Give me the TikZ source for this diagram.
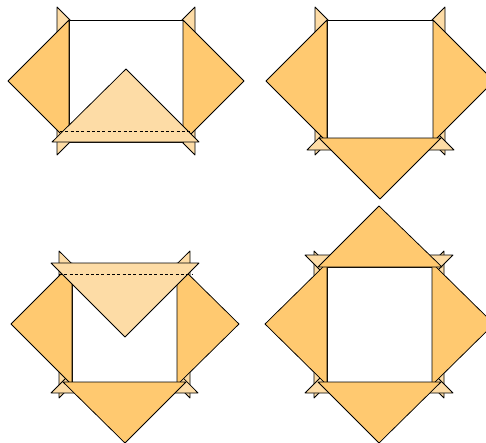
\documentclass[tikz,border=0pt]{standalone}
\definecolor{flapdark}{HTML}{FFC970}
\definecolor{flaplight}{HTML}{FDDCA6}
\tikzset{
    flapfront/.style={draw=black,fill=flapdark,line width=0.75pt,line join=round},
    flapback/.style={draw=black,fill=flaplight,line width=0.75pt,line join=round},
    window/.style={draw=black,fill=white,line width=1pt},
    foldline/.style={draw=black,line width=1pt,dash pattern=on 3pt off 2.3pt}
}
\begin{document}
\begin{tikzpicture}[x=1pt,y=-1pt]
        \clip (0,0) rectangle (486,442);
        % top left
        \draw [flapback] (57,7) -- (57,155) -- (131,81) -- cycle;\draw [flapback] (195,7) -- (195,155) -- (121,81) -- cycle;
        \draw [window] (69,20) rectangle (183,142);
        \draw [flapfront] (69,20) -- (8,81) -- (69,142) -- cycle;\draw [flapfront] (183,20) -- (244,81) -- (183,142) -- cycle;
        \draw [flapback] (52,142) -- (199,142) -- (126,69) -- cycle;
        \draw [foldline] (60,131) -- (192,131);
        % top right
        \draw [flapback] (315,7) -- (315,155) -- (389,81) -- cycle;\draw [flapback] (445,7) -- (445,155) -- (371,81) -- cycle;
        \draw [flapback] (307,150) -- (454,150) -- (380,76) -- cycle;
        \draw [window] (327,20) rectangle (433,138);
        \draw [flapfront] (327,20) -- (266,81) -- (327,142) -- cycle;\draw [flapfront] (433,20) -- (494,81) -- (433,142) -- cycle;
        \draw [flapfront] (319,138) -- (441,138) -- (380,199) -- cycle;
        % bottom left
        \draw [flapback] (59,251) -- (59,398) -- (133,324) -- cycle;\draw [flapback] (190,251) -- (190,398) -- (116,324) -- cycle;
        \draw [flapback] (51,393) -- (198,393) -- (125,319) -- cycle;
        \draw [window] (72,263) rectangle (177,382);
        \draw [flapfront] (72,263) -- (11,324) -- (72,385) -- cycle;\draw [flapfront] (177,263) -- (239,324) -- (177,385) -- cycle;
        \draw [flapfront] (63,382) -- (186,382) -- (125,443) -- cycle;
        \draw [flapback] (51,263) -- (199,263) -- (125,337) -- cycle;
        \draw [foldline] (59,274) -- (192,274);
        % bottom right
        \draw [flapback] (314,251) -- (314,398) -- (388,324) -- cycle;\draw [flapback] (444,251) -- (444,398) -- (370,324) -- cycle;
        \draw [flapback] (305,255) -- (453,255) -- (379,329) -- cycle;\draw [flapback] (305,393) -- (453,393) -- (379,319) -- cycle;
        \draw [window] (327,267) rectangle (432,382);
        \draw [flapfront] (327,263) -- (265,324) -- (327,385) -- cycle;\draw [flapfront] (432,263) -- (494,324) -- (432,385) -- cycle;
        \draw [flapfront] (318,267) -- (442,267) -- (379,206) -- cycle;\draw [flapfront] (318,382) -- (441,382) -- (379,443) -- cycle;
    \end{tikzpicture}
\end{document}
